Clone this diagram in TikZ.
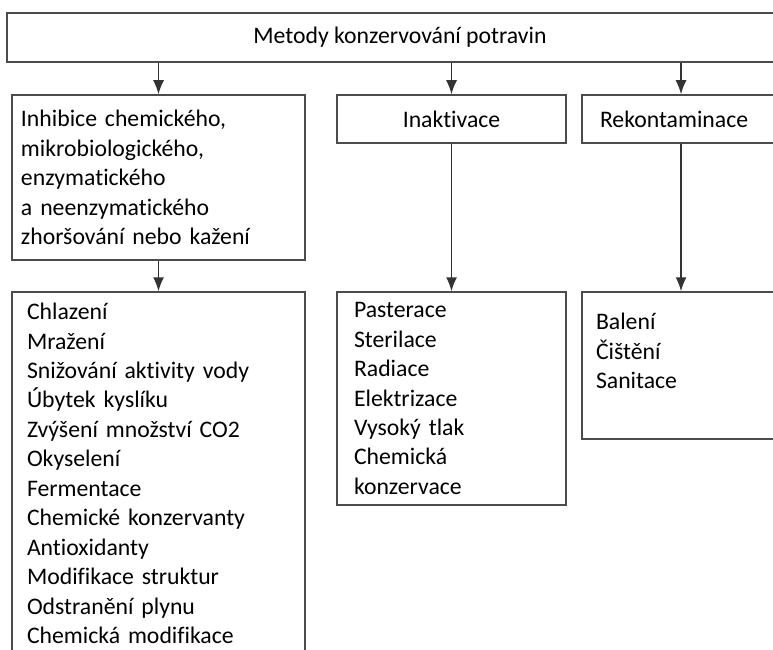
\documentclass[tikz,border=0pt]{standalone}
\usepackage{fontspec}
\setmainfont{Carlito}[Ligatures=NoCommon]
\usepackage{tikz}
\usetikzlibrary{arrows.meta}
\usetikzlibrary{positioning}
\newcommand{\upx}{0.75pt}
\tikzset{box/.style={draw=black!70,line width=1.5*\upx,inner sep=0pt}}
\tikzset{listbox/.style={box,align=left,inner xsep=#1*\upx}}
\tikzset{arrow/.style={draw=black!80,line width=1.5*\upx,-{Latex[length=14*\upx,width=11*\upx]}}}

\begin{document}
\begin{tikzpicture}[x=\upx,y=-\upx]
        \clip (0,0) rectangle (773,649);
        \fontsize{17.8}{22.1}\selectfont
        \lineskiplimit=-10pt

        \node[box,minimum width=786*\upx,minimum height=49*\upx] (meth) at (400,37.5)
            {Metody konzervování potravin};

        \node[listbox=9,text width=275*\upx,minimum height=165*\upx] (inh) at (158.5,177.5)
            {Inhibice chemického,\\
            mikrobiologického,\\
            enzymatického\\
            a neenzymatického\\
            zhoršování nebo kažení};
        \node[box,minimum width=229*\upx,minimum height=48*\upx] (inak) at (451.5,119)
            {Inaktivace};
        \node[listbox=18,text width=162*\upx,minimum height=48*\upx] (rek) at (681,119)
            {Rekontaminace};

        \node[listbox=15,text width=263*\upx,minimum height=363*\upx] (inhList) at (158.5,473.5)
            {Chlazení\\ Mražení\\ Snižování aktivity vody\\ Úbytek kyslíku\\
            Zvýšení množství CO2\\ Okyselení\\ Fermentace\\ Chemické konzervanty\\
            Antioxidanty\\ Modifikace struktur\\ Odstranění plynu\\ Chemická modifikace};
        \node[listbox=17,text width=195*\upx,minimum height=213*\upx] (inakList) at (451.5,398.5)
            {Pasterace\\ Sterilace\\ Radiace\\ Elektrizace\\ Vysoký tlak\\
            Chemická\\ konzervace};
        \node[listbox=14,text width=170*\upx,minimum height=147*\upx] (rekList) at (681,365.5)
            {Balení\\ Čištění\\ Sanitace\\ ~};

        \draw[arrow] (meth.south -| inh.north) -- (inh.north);
        \draw[arrow] (meth.south -| inak.north) -- (inak.north);
        \draw[arrow] (meth.south -| rek.north) -- (rek.north);
        \draw[arrow] (inh) -- (inhList);
        \draw[arrow] (inak) -- (inakList);
        \draw[arrow] (rek) -- (rekList);
\end{tikzpicture}
\end{document}
